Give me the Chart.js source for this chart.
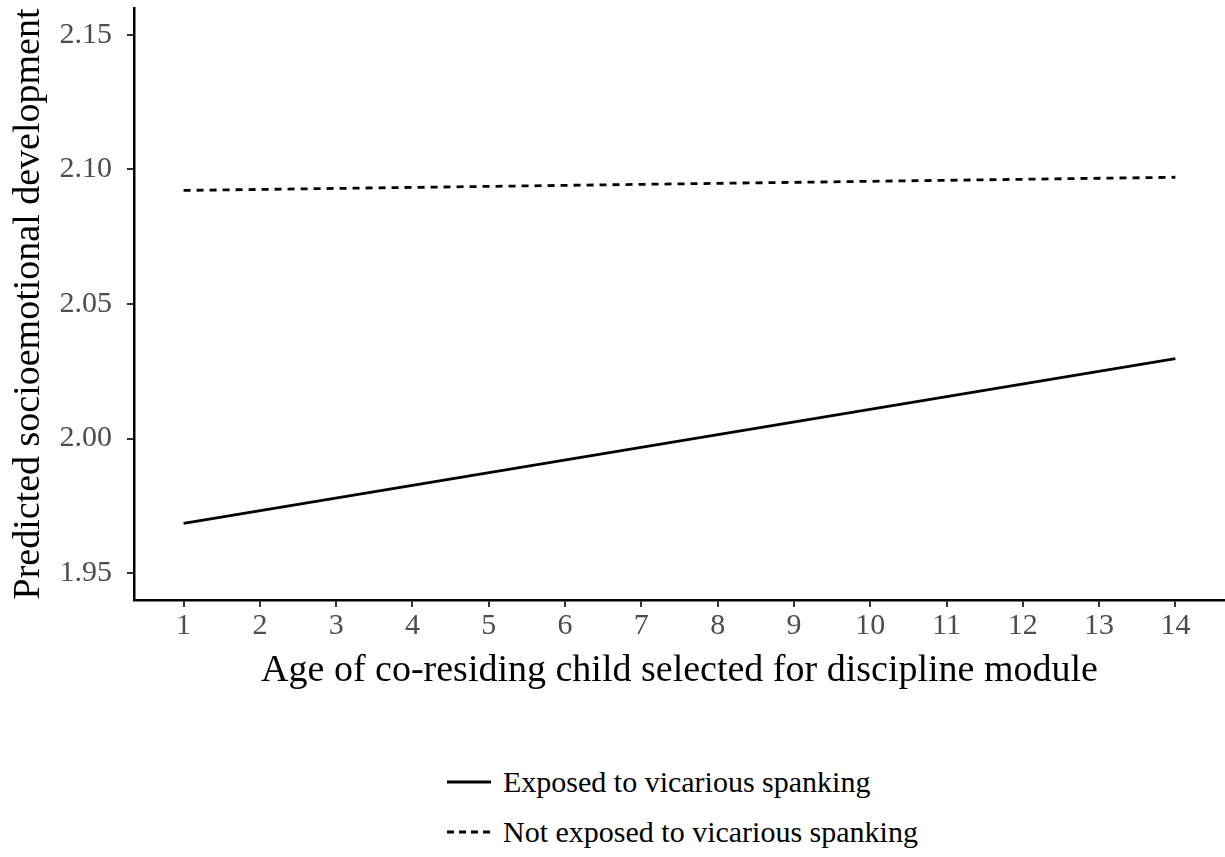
<!DOCTYPE html>
<html>
<head>
<meta charset="utf-8">
<script src="https://cdn.jsdelivr.net/npm/chart.js@4/dist/chart.umd.min.js"></script>
<style>
  body { margin: 0; background: #fff; width: 1225px; height: 857px; overflow: hidden; font-family: "Liberation Serif", serif; }
  #wrap { position: absolute; left: 0; top: 0; width: 1225px; height: 700px; }
  #legend { position: absolute; left: 447px; top: 757px; font-size: 30px; color: #000; }
  .row { display: flex; align-items: center; height: 50px; }
  .row svg { margin-right: 12px; }
</style>
</head>
<body>
<div id="wrap"><canvas id="chart"></canvas></div>
<div id="legend"></div>
<script>
const ages = [1, 14];
const exposed = [1.9685, 2.0297];
const notExposed = [2.0922, 2.0971];
const xTicks = [1, 2, 3, 4, 5, 6, 7, 8, 9, 10, 11, 12, 13, 14];
const yTicks = [1.95, 2.00, 2.05, 2.10, 2.15];
const yTickLabels = ['1.95', '2.00', '2.05', '2.10', '2.15'];
const seriesNames = ['Exposed to vicarious spanking', 'Not exposed to vicarious spanking'];

const toPoints = (vals) => ages.map((a, i) => ({ x: a, y: vals[i] }));

const tickFont = { family: 'Liberation Serif', size: 30 };
const titleFont = { family: 'Liberation Serif', size: 38 };

const datasets = [
  { label: seriesNames[0], data: toPoints(exposed), borderColor: '#000', borderWidth: 2.8, pointRadius: 0, borderDash: [] },
  { label: seriesNames[1], data: toPoints(notExposed), borderColor: '#000', borderWidth: 2.8, pointRadius: 0, borderDash: [7, 6] }
];

new Chart(document.getElementById('chart'), {
  type: 'line',
  data: { datasets: datasets },
  options: {
    responsive: true,
    maintainAspectRatio: false,
    animation: false,
    layout: { padding: { top: 8, right: 0, left: 0, bottom: 0 } },
    plugins: { legend: { display: false }, tooltip: { enabled: false } },
    scales: {
      x: {
        type: 'linear',
        min: 0.35,
        max: 14.65,
        afterBuildTicks: s => { s.ticks = xTicks.map(v => ({ value: v })); },
        afterFit: s => { s.height = 100; s.paddingLeft = 0; s.paddingRight = 0; },
        ticks: { font: tickFont, color: '#4d4d4d', padding: 1, maxRotation: 0, autoSkip: false },
        grid: { drawOnChartArea: false, drawTicks: true, tickLength: 7, color: '#333', lineWidth: 2 },
        border: { display: true, color: '#000', width: 2.5 },
        title: { display: true, text: 'Age of co-residing child selected for discipline module', font: titleFont, color: '#000', padding: { top: 0, bottom: 6 } }
      },
      y: {
        min: 1.94,
        max: 2.16,
        afterBuildTicks: s => { s.ticks = yTicks.map(v => ({ value: v })); },
        afterFit: s => { s.width = 134; s.paddingTop = 0; s.paddingBottom = 0; },
        ticks: {
          font: tickFont, color: '#4d4d4d', padding: 15, autoSkip: false,
          callback: (v) => { const i = yTicks.findIndex(t => Math.abs(t - v) < 1e-9); return i >= 0 ? yTickLabels[i] : ''; }
        },
        grid: { drawOnChartArea: false, drawTicks: true, tickLength: 7, color: '#333', lineWidth: 2 },
        border: { display: true, color: '#000', width: 2.5 },
        title: { display: true, text: 'Predicted socioemotional development', font: titleFont, color: '#000', padding: { bottom: 0, top: 6 } }
      }
    }
  }
});

// legend below the plot, one entry per row
const legend = document.getElementById('legend');
datasets.forEach(ds => {
  const row = document.createElement('div');
  row.className = 'row';
  const dash = ds.borderDash.length ? `stroke-dasharray="7 5"` : '';
  row.innerHTML = `<svg width="44" height="10"><line x1="0" y1="5" x2="44" y2="5" stroke="#000" stroke-width="2.8" ${dash}/></svg><span>${ds.label}</span>`;
  legend.appendChild(row);
});
</script>
</body>
</html>
